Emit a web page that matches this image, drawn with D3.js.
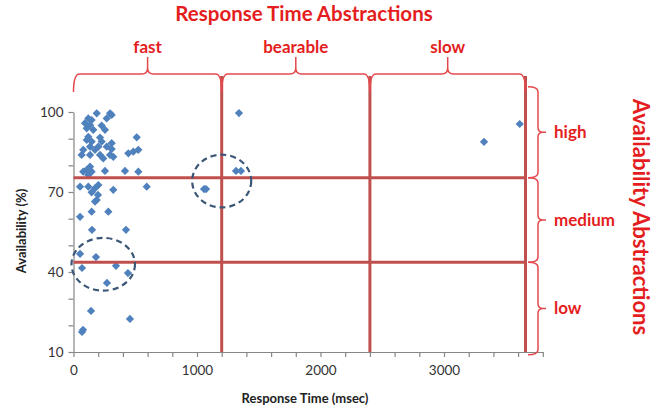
<!DOCTYPE html>
<html>
<head>
<meta charset="utf-8">
<script src="https://cdn.jsdelivr.net/npm/d3@7"></script>
<style>
  body { margin: 0; background: #fff; }
  text { font-family: Lato, "Open Sans", sans-serif; }
</style>
</head>
<body>
<svg id="chart" width="666" height="410"></svg>
<script>
const WIDTH = 666;
const HEIGHT = 410;

// response time (msec), availability (%)
const responseTimes = [
  188, 296, 309, 269, 120, 147, 93, 134, 228, 107, 160, 255, 120, 215, 512,
  107, 147, 228, 309, 134, 201, 269, 79, 174, 309, 525, 484, 444, 134, 215,
  296, 66, 241, 322, 134, 107, 255, 417, 525, 79, 147, 120, 53, 120, 201,
  174, 322, 593, 147, 198, 188, 174, 53, 147, 282, 150, 425, 53, 182, 69,
  344, 441, 271, 142, 457, 77, 69,
  1057, 1073, 1316, 1356, 1340, 3324, 3613,
];
const availability = [
  99.5, 99.5, 98.9, 97.6, 97.6, 97.0, 95.8, 95.1, 94.9, 93.9, 93.3, 93.3, 90.7, 90.4, 90.5,
  89.5, 88.9, 88.9, 88.3, 87.0, 87.0, 87.0, 85.8, 85.8, 86.1, 85.8, 85.1, 84.5, 83.9, 83.9,
  83.9, 83.9, 82.6, 83.2, 79.5, 78.3, 77.9, 77.9, 77.6, 77.6, 77.6, 76.4, 72.0, 72.0, 72.6,
  71.4, 70.8, 72.0, 69.9, 68.9, 67.0, 66.4, 60.7, 62.6, 62.6, 55.8, 55.8, 46.8, 45.6, 41.5,
  42.3, 39.6, 35.9, 25.4, 22.4, 18.3, 17.5,
  71.1, 71.1, 77.9, 77.9, 99.6, 88.8, 95.5,
];

const xTicks = d3.range(0, 3801, 200);
const xLabels = [0, 1000, 2000, 3000];
const yTicks = d3.range(10, 101, 10);
const yLabels = [10, 40, 70, 100];

// abstraction boundaries
const timeCuts = [1200, 2400, 3660];
const availCuts = [75.3, 43.7];
const timeBands = [
  { name: "fast", from: 0, to: 1200 },
  { name: "bearable", from: 1200, to: 2400 },
  { name: "slow", from: 2400, to: 3660 },
];
const availBands = [
  { name: "high", from: 75.3, to: 109.5 },
  { name: "medium", from: 43.7, to: 75.3 },
  { name: "low", from: 9, to: 43.7 },
];
// dashed circles: centre time, centre availability, radius time, radius availability
const highlights = [
  { x: 1200, y: 74.1, rx: 239, ry: 9.9 },
  { x: 241, y: 42.9, rx: 257, ry: 9.9 },
];

const RED_LINE = "#c0504d";
const RED_TEXT = "#e41e1e";
const RED_BRACE = "#e5484b";

const svg = d3.select("#chart");

const xScale = d3.scaleLinear().domain([0, 3800]).range([73.5, 542.8]);
const yScale = d3.scaleLinear().domain([10, 100]).range([352, 112]);

// axes
const xAxis = svg
  .append("g")
  .attr("transform", `translate(0, ${yScale(10)})`)
  .call(
    d3
      .axisBottom(xScale)
      .tickValues(xTicks)
      .tickSize(5)
      .tickSizeOuter(0)
      .tickFormat((d) => (xLabels.includes(d) ? d : ""))
  );

const yAxis = svg
  .append("g")
  .attr("transform", `translate(${xScale(0)}, 0)`)
  .call(
    d3
      .axisLeft(yScale)
      .tickValues(yTicks)
      .tickSize(5)
      .tickSizeOuter(0)
      .tickFormat((d) => (yLabels.includes(d) ? d : ""))
  );

[xAxis, yAxis].forEach((axis) => {
  axis.select(".domain").attr("stroke", "#868686").attr("stroke-width", 1.2);
  axis.selectAll(".tick line").attr("stroke", "#868686").attr("stroke-width", 1.2);
  axis
    .selectAll(".tick text")
    .attr("fill", "#333")
    .style("font-size", "13.5px")
    .style("font-family", "Lato, sans-serif");
});
xAxis.selectAll(".tick text").attr("dy", "1.1em");
yAxis.selectAll(".tick text").attr("x", -10);

svg
  .append("text")
  .attr("x", 305)
  .attr("y", 403)
  .attr("text-anchor", "middle")
  .attr("font-weight", "bold")
  .attr("font-size", 13)
  .attr("fill", "#222")
  .text("Response Time (msec)");

svg
  .append("text")
  .attr("transform", "translate(26, 231) rotate(-90)")
  .attr("text-anchor", "middle")
  .attr("font-weight", "bold")
  .attr("font-size", 13)
  .attr("fill", "#222")
  .text("Availability (%)");

// points
const points = responseTimes.map((t, i) => ({ t, a: availability[i] }));

svg
  .append("g")
  .selectAll("path")
  .data(points)
  .enter()
  .append("path")
  .attr("d", d3.symbol().type(d3.symbolSquare).size(34))
  .attr("transform", (d) => `translate(${xScale(d.t)}, ${yScale(d.a)}) rotate(45)`)
  .attr("fill", "#4f81bd");

// red grid of abstractions
const BRACE_Y = 74;

svg
  .append("g")
  .selectAll("line")
  .data(timeCuts)
  .enter()
  .append("line")
  .attr("x1", (d) => xScale(d))
  .attr("x2", (d) => xScale(d))
  .attr("y1", BRACE_Y + 2)
  .attr("y2", yScale(10))
  .attr("stroke", RED_LINE)
  .attr("stroke-width", 3);

svg
  .append("g")
  .selectAll("line")
  .data(availCuts)
  .enter()
  .append("line")
  .attr("x1", xScale(0))
  .attr("x2", xScale(3660))
  .attr("y1", (d) => yScale(d))
  .attr("y2", (d) => yScale(d))
  .attr("stroke", RED_LINE)
  .attr("stroke-width", 3);

// dashed highlight ellipses
svg
  .append("g")
  .selectAll("ellipse")
  .data(highlights)
  .enter()
  .append("ellipse")
  .attr("cx", (d) => xScale(d.x))
  .attr("cy", (d) => yScale(d.y))
  .attr("rx", (d) => xScale(d.rx) - xScale(0))
  .attr("ry", (d) => yScale(0) - yScale(d.ry))
  .attr("fill", "none")
  .attr("stroke", "#3b5677")
  .attr("stroke-width", 2.2)
  .attr("stroke-dasharray", "6,4");

// curly braces
function topBrace(x0, x1, y) {
  const xm = (x0 + x1) / 2;
  const r = 6;
  const dn = 18;
  const tip = 17;
  return `M${x0},${y + dn} Q${x0},${y} ${x0 + r},${y} L${xm - r},${y} Q${xm},${y} ${xm},${y - r} L${xm},${y - tip}
    M${xm},${y - r} Q${xm},${y} ${xm + r},${y} L${x1 - r},${y} Q${x1},${y} ${x1},${y + dn}`;
}

function sideBrace(y0, y1, x) {
  const ym = (y0 + y1) / 2;
  const r = 5;
  const dn = 10;
  const tip = 8;
  return `M${x - dn},${y0} Q${x},${y0} ${x},${y0 + r} L${x},${ym - r} Q${x},${ym} ${x + r},${ym} L${x + tip},${ym}
    M${x + r},${ym} Q${x},${ym} ${x},${ym + r} L${x},${y1 - r} Q${x},${y1} ${x - dn},${y1}`;
}

svg
  .append("g")
  .selectAll("path")
  .data(timeBands)
  .enter()
  .append("path")
  .attr("d", (d) => topBrace(xScale(d.from), xScale(d.to), BRACE_Y))
  .attr("fill", "none")
  .attr("stroke", RED_BRACE)
  .attr("stroke-width", 1.5);

svg
  .append("g")
  .selectAll("text")
  .data(timeBands)
  .enter()
  .append("text")
  .attr("x", (d) => (xScale(d.from) + xScale(d.to)) / 2)
  .attr("y", 53)
  .attr("text-anchor", "middle")
  .attr("font-weight", "bold")
  .attr("font-size", 17)
  .attr("fill", RED_TEXT)
  .text((d) => d.name);

const SIDE_X = 538;

svg
  .append("g")
  .selectAll("path")
  .data(availBands)
  .enter()
  .append("path")
  .attr("d", (d) => sideBrace(yScale(d.to), yScale(d.from), SIDE_X))
  .attr("fill", "none")
  .attr("stroke", RED_BRACE)
  .attr("stroke-width", 1.5);

svg
  .append("g")
  .selectAll("text")
  .data(availBands)
  .enter()
  .append("text")
  .attr("x", SIDE_X + 16)
  .attr("y", (d) => (yScale(d.to) + yScale(d.from)) / 2)
  .attr("dy", "0.35em")
  .attr("font-weight", "bold")
  .attr("font-size", 17)
  .attr("fill", RED_TEXT)
  .text((d) => d.name);

svg
  .append("text")
  .attr("x", 304)
  .attr("y", 21)
  .attr("text-anchor", "middle")
  .attr("font-weight", "bold")
  .attr("font-size", 20.5)
  .attr("fill", RED_TEXT)
  .text("Response Time Abstractions");

svg
  .append("text")
  .attr("transform", "translate(633, 217) rotate(90)")
  .attr("text-anchor", "middle")
  .attr("font-size", 22)
  .attr("font-weight", "bold")
  .attr("fill", RED_TEXT)
  .text("Availability Abstractions");
</script>
</body>
</html>
